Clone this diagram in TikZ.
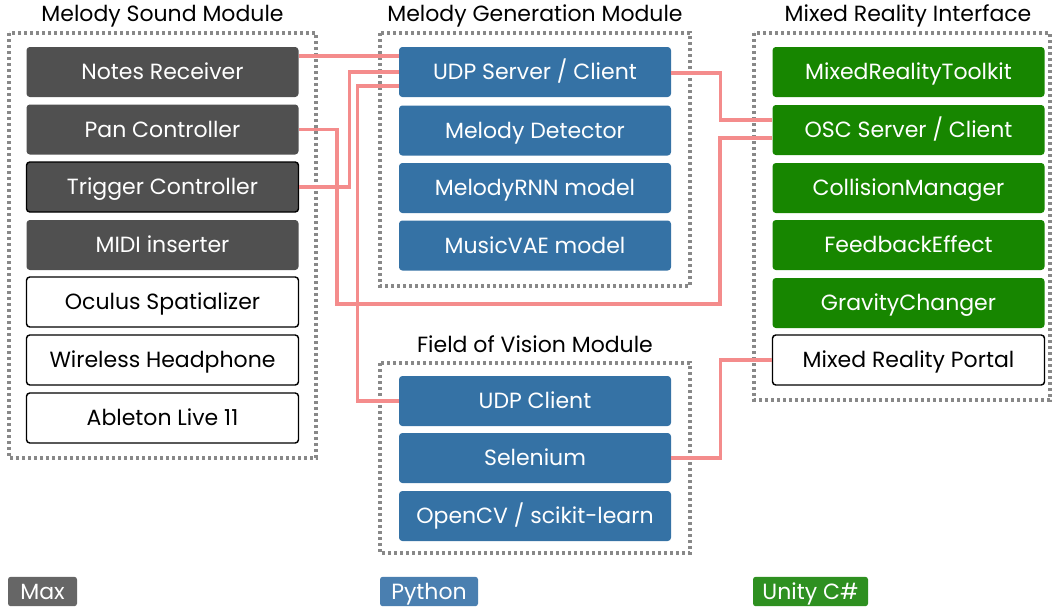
\documentclass[tikz,border=0pt]{standalone}
\usepackage{fontspec}
\setmainfont{Poppins}
\definecolor{maxc}{HTML}{505050}
\definecolor{pyc}{HTML}{3572A5}
\definecolor{csc}{HTML}{178600}
\definecolor{maxl}{HTML}{666666}
\definecolor{pyl}{HTML}{4A7FB0}
\definecolor{csl}{HTML}{2E9020}
\definecolor{linkc}{HTML}{F48C8C}
\definecolor{framec}{HTML}{888888}
\tikzset{
  box/.style={minimum width=204pt, minimum height=37.5pt, rounded corners=2.5pt, inner sep=0pt, font=\fontsize{16.5}{18}\selectfont, text height=11.6pt, text depth=0pt},
  maxbox/.style={box, fill=maxc, text=white},
  pybox/.style={box, fill=pyc, text=white},
  csbox/.style={box, fill=csc, text=white},
  plainbox/.style={box, fill=white, draw=black, line width=1.1pt, text=black},
  frame/.style={draw=framec, line width=2.3pt, dash pattern=on 2.3pt off 2.2pt},
  title/.style={font=\fontsize{16.5}{18}\selectfont, text=black, inner sep=0pt, text height=11.6pt, text depth=0pt},
  link/.style={draw=linkc, line width=2.3pt},
  legend/.style={rounded corners=2pt, inner sep=0pt, minimum height=22pt, text=white, font=\fontsize{16.5}{18}\selectfont, text height=11.6pt, text depth=0pt},
}
\begin{document}
\begin{tikzpicture}[x=0.75pt,y=-0.75pt]
\useasboundingbox (0,0) rectangle (1052,607);
% frames
\draw[frame] (9,33) rectangle (316,458);
\draw[frame] (380,33) rectangle (690,286);
\draw[frame] (380,363) rectangle (690,553);
\draw[frame] (754,33) rectangle (1050,400);
% titles
\node[title] (t1) at (162.5,14) {Melody Sound Module};
\node[title] (t2) at (535,14) {Melody Generation Module};
\node[title] (t3) at (908,14) {Mixed Reality Interface};
\node[title] (t4) at (535,345) {Field of Vision Module};
% left column
\node[maxbox] (notes) at (162.5,72) {Notes Receiver};
\node[maxbox] (pan) at (162.5,129.5) {Pan Controller};
\node[maxbox, draw=black, line width=1.1pt] (trig) at (162.5,187) {Trigger Controller};
\node[maxbox] (midi) at (162.5,245) {MIDI inserter};
\node[plainbox] (ocul) at (162.5,302) {Oculus Spatializer};
\node[plainbox] (wire) at (162.5,360) {Wireless Headphone};
\node[plainbox] (able) at (162.5,418) {Ableton Live 11};
% middle column
\node[pybox] (udp) at (535,72) {UDP Server / Client};
\node[pybox] (det) at (535,130.5) {Melody Detector};
\node[pybox] (rnn) at (535,188) {MelodyRNN model};
\node[pybox] (vae) at (535,245.5) {MusicVAE model};
\node[pybox] (udpc) at (535,401) {UDP Client};
\node[pybox] (sel) at (535,458) {Selenium};
\node[pybox] (cv) at (535,516) {OpenCV / scikit-learn};
% right column
\node[csbox] (mrtk) at (908.5,72) {MixedRealityToolkit};
\node[csbox] (osc) at (908.5,130) {OSC Server / Client};
\node[csbox] (coll) at (908.5,188) {CollisionManager};
\node[csbox] (feed) at (908.5,245) {FeedbackEffect};
\node[csbox] (grav) at (908.5,303) {GravityChanger};
\node[plainbox] (portal) at (908.5,360) {Mixed Reality Portal};
% links
\coordinate (busA) at (337,304);
\coordinate (busB) at (720,304);
\draw[link] ([yshift=12pt]notes.east) -- ([yshift=12pt]udp.west);
\draw[link] (trig.east) -- ++(37.5pt,0) |- (udp.west);
\draw[link] (pan.east) -| (busA) -- (busB) |- ([yshift=-6pt]osc.west);
\draw[link] ([yshift=-0.75pt]udp.east) -- ++(36.75pt,0) |- ([yshift=7.5pt]osc.west);
\draw[link] ([yshift=-10.5pt]udp.west) -- ++(-30.75pt,0) |- (udpc.west);
\draw[link] (sel.east) -- ++(36.75pt,0) |- (portal.west);
% legend
\node[legend, fill=maxl, minimum width=51.75pt] (lmax) at (42.5,591.5) {Max};
\node[legend, fill=pyl, minimum width=73.5pt] (lpy) at (429,591.5) {Python};
\node[legend, fill=csl, minimum width=86.25pt] (lcs) at (810.5,591.5) {Unity C\#};
\end{tikzpicture}
\end{document}
